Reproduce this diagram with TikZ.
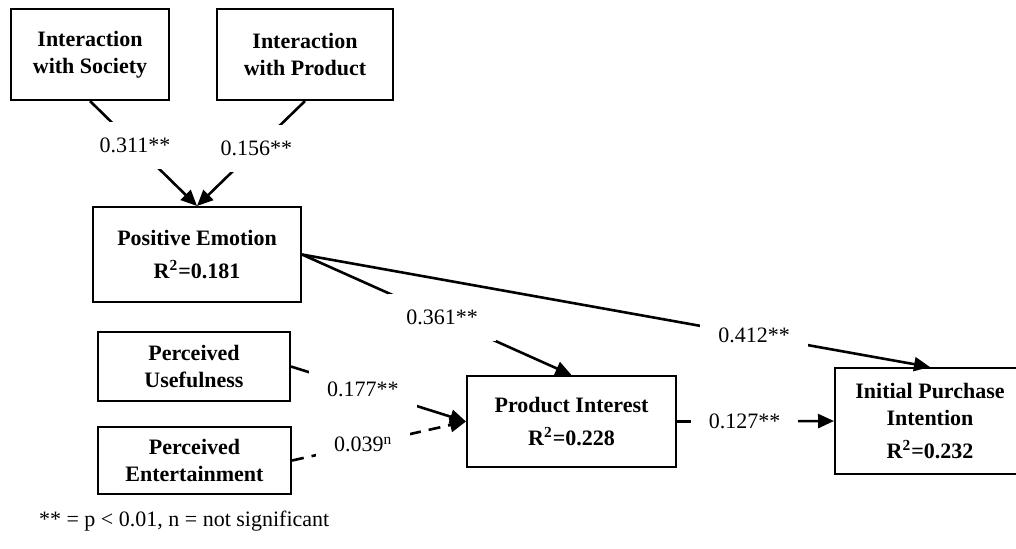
\documentclass[tikz,border=0pt]{standalone}
\usepackage{fontspec}
\setmainfont{Liberation Serif}
\usetikzlibrary{arrows.meta}

\begin{document}
\begin{tikzpicture}[x=0.5pt,y=-0.5pt,>={Triangle[length=8pt,width=7pt]},
  font=\fontsize{11}{13.5}\selectfont,
  box/.style={draw,line width=1pt,align=center,inner sep=0pt,font=\fontsize{11}{13.5}\selectfont\bfseries},
  link/.style={->,line width=1.3pt},
  coef/.style={fill=white,inner xsep=9pt,inner ysep=8pt}]
  \useasboundingbox (0,0) rectangle (1016,548);

  % Kasser
  \node[box,minimum width=79pt,minimum height=45.5pt] (soc) at (90,54.5) {Interaction\\with Society};
  \node[box,minimum width=88pt,minimum height=45.5pt] (prod) at (305,54.5) {Interaction\\with Product};
  \node[box,minimum width=104pt,minimum height=47.5pt] (pe) at (197,254.5) {Positive Emotion\\[3pt]R\textsuperscript{2}=0.181};
  \node[box,minimum width=96pt,minimum height=34.5pt] (pu) at (194,366.5) {Perceived\\Usefulness};
  \node[box,minimum width=96.5pt,minimum height=33.5pt] (pent) at (194.5,460.5) {Perceived\\Entertainment};
  \node[box,minimum width=104.5pt,minimum height=45.5pt] (pi) at (571.5,421.5) {Product Interest\\[3pt]R\textsuperscript{2}=0.228};
  \node[box,minimum width=95pt,minimum height=53pt] (ipi) at (930,421) {Initial Purchase\\Intention\\[3pt]R\textsuperscript{2}=0.232};

  % Pile med koefficienter
  \draw[link] (soc.south) -- node[coef,pos=0.42] {0.311**} (pe.north);
  \draw[link] (prod.south) -- node[coef,pos=0.45] {0.156**} (pe.north);
  \draw[link] (pe.east) -- node[coef,pos=0.52] {0.361**} (pi.north);
  \draw[link] (pe.east) -- node[coef,pos=0.72] {0.412**} (ipi.north);
  \draw[link] (pu.east) -- node[coef,pos=0.41] {0.177**} (pi.west);
  \draw[link,dash pattern=on 6pt off 4pt] (pent.east) -- node[coef,pos=0.41] {0.039\textsuperscript{n}} (pi.west);
  \draw[link] (pi.east) -- node[coef,pos=0.43] {0.127**} (ipi.west);

  % Note
  \node[anchor=west] (note) at (32,521) {** = p < 0.01, n = not significant};
\end{tikzpicture}
\end{document}
